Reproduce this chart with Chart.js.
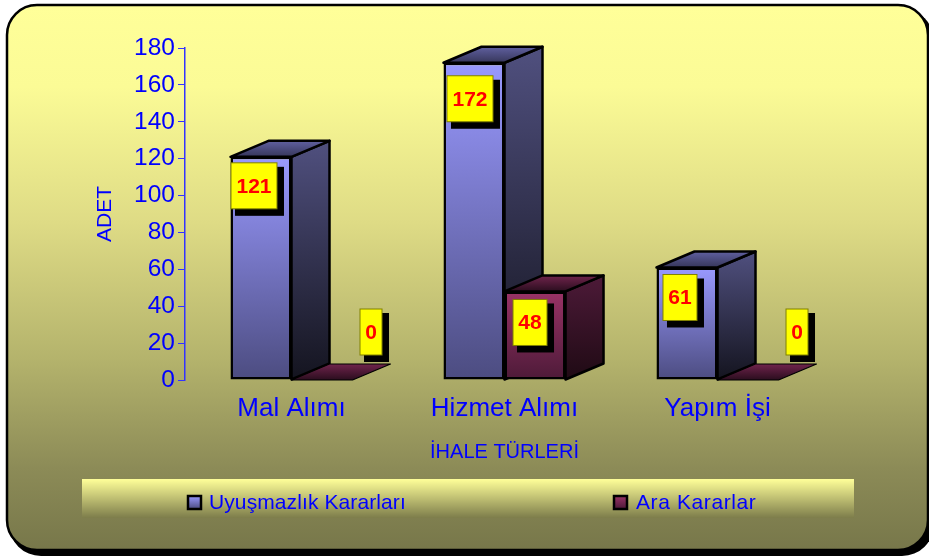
<!DOCTYPE html>
<html>
<head>
<meta charset="utf-8">
<title>İhale Türleri</title>
<script src="https://cdn.jsdelivr.net/npm/chart.js@4"></script>
<style>
    html, body { margin: 0; padding: 0; background: #fff; }
    #wrap { width: 929px; height: 556px; }
</style>
</head>
<body>
<div id="wrap"><canvas id="chart" width="929" height="556"></canvas></div>
<script>
const categories = ['Mal Alımı', 'Hizmet Alımı', 'Yapım İşi'];
const seriesNames = ['Uyuşmazlık Kararları', 'Ara Kararlar'];
const uyusmazlik = [121, 172, 61];
const araKararlar = [0, 48, 0];
const yTicks = [0, 20, 40, 60, 80, 100, 120, 140, 160, 180];

const FONT = '"Liberation Sans", Arial, sans-serif';
const BLUE = '#0000ff';
const DEPTH_X = 38;
const DEPTH_Y = -16;

// hand placed value boxes, offset from the top centre of each bar
const boxOffsets = [
    [[-7, 29], [-4, 36], [-7, 30]],
    [[49, -48], [-5, 31], [49, -48]]
];

const faces = [
    { front: ['#9999ff', '#4c4c80'], side: ['#50507f', '#14141f'], top: ['#6060a0', '#36365a'] },
    { front: ['#993366', '#4d1a38'], side: ['#4d1a38', '#1f0a14'], top: ['#70244c', '#2a0d1e'] }
];

function vGrad(ctx, y0, y1, c0, c1) {
    const g = ctx.createLinearGradient(0, y0, 0, y1);
    g.addColorStop(0, c0);
    g.addColorStop(1, c1);
    return g;
}

function poly(ctx, pts, fill, lineWidth) {
    ctx.beginPath();
    pts.forEach((p, i) => i ? ctx.lineTo(p[0], p[1]) : ctx.moveTo(p[0], p[1]));
    ctx.closePath();
    ctx.fillStyle = fill;
    ctx.fill();
    ctx.lineWidth = lineWidth;
    ctx.lineJoin = 'round';
    ctx.strokeStyle = '#000';
    ctx.stroke();
}

function drawDepth(chart, datasetIndex) {
    const ctx = chart.ctx;
    const f = faces[datasetIndex];
    chart.getDatasetMeta(datasetIndex).data.forEach(bar => {
        const l = bar.x - bar.width / 2;
        const r = bar.x + bar.width / 2;
        const t = bar.y;
        const b = bar.base;
        const flat = b - t < 1;
        ctx.save();
        if (!flat) {
            poly(ctx, [[r, t], [r + DEPTH_X, t + DEPTH_Y], [r + DEPTH_X, b + DEPTH_Y], [r, b]],
                vGrad(ctx, t + DEPTH_Y, b, f.side[0], f.side[1]), 2.5);
        }
        poly(ctx, [[l, t], [l + DEPTH_X, t + DEPTH_Y], [r + DEPTH_X, t + DEPTH_Y], [r, t]],
            vGrad(ctx, t + DEPTH_Y, t, f.top[0], f.top[1]), flat ? 1.2 : 2.5);
        ctx.restore();
    });
}

function drawLegend(ctx) {
    const swatchX = [188, 614];
    const textX = [209, 636];
    const spacing = ['0.1px', '0.6px'];
    seriesNames.forEach((name, i) => {
        ctx.fillStyle = vGrad(ctx, 496, 509, faces[i].front[0], faces[i].front[1]);
        ctx.fillRect(swatchX[i], 496, 13, 13);
        ctx.lineWidth = 2.5;
        ctx.strokeStyle = '#000';
        ctx.strokeRect(swatchX[i], 496, 13, 13);
        ctx.fillStyle = BLUE;
        ctx.font = '21px ' + FONT;
        ctx.textAlign = 'left';
        ctx.textBaseline = 'alphabetic';
        ctx.letterSpacing = spacing[i];
        ctx.fillText(name, textX[i], 509);
    });
    ctx.letterSpacing = '0px';
}

const bars3d = {
    id: 'bars3d',
    beforeDraw(chart) {
        const ctx = chart.ctx;
        ctx.save();
        // drop shadow and rounded panel
        ctx.fillStyle = '#000';
        ctx.beginPath();
        ctx.roundRect(9, 9, 925, 547, 32);
        ctx.fill();
        const g = ctx.createLinearGradient(0, 5, 0, 550);
        g.addColorStop(0, '#ffff99');
        g.addColorStop(0.15, '#fbfb96');
        g.addColorStop(0.4, '#dedb85');
        g.addColorStop(0.65, '#b4b36c');
        g.addColorStop(0.85, '#8c8b57');
        g.addColorStop(1, '#77774a');
        ctx.beginPath();
        ctx.roundRect(7, 5, 921, 545, 30);
        ctx.fillStyle = g;
        ctx.fill();
        ctx.lineWidth = 2.5;
        ctx.strokeStyle = '#000';
        ctx.stroke();
        // legend strip
        ctx.fillStyle = vGrad(ctx, 479, 518, '#ffff99', '#7d7d4b');
        ctx.fillRect(82, 479, 772, 39);
        drawLegend(ctx);
        ctx.restore();
    },
    beforeDatasetsDraw(chart) {
        drawDepth(chart, 0);
    },
    afterDatasetDraw(chart, args) {
        if (args.index === 1) drawDepth(chart, 1);
    },
    afterDatasetsDraw(chart) {
        const ctx = chart.ctx;
        ctx.save();
        chart.data.datasets.forEach((ds, d) => {
            chart.getDatasetMeta(d).data.forEach((bar, i) => {
                const text = String(ds.data[i]);
                const w = 10 + 12 * text.length;
                const h = 46;
                const cx = bar.x + boxOffsets[d][i][0];
                const cy = bar.y + boxOffsets[d][i][1];
                ctx.fillStyle = '#000';
                ctx.fillRect(cx - w / 2 + 4, cy - h / 2 + 4, w + 3, h + 3);
                ctx.fillStyle = '#ffff00';
                ctx.fillRect(cx - w / 2, cy - h / 2, w, h);
                ctx.lineWidth = 1;
                ctx.strokeStyle = '#808000';
                ctx.strokeRect(cx - w / 2, cy - h / 2, w, h);
                ctx.fillStyle = '#ff0000';
                ctx.font = 'bold 21px ' + FONT;
                ctx.textAlign = 'center';
                ctx.textBaseline = 'middle';
                ctx.fillText(text, cx, cy + 1);
            });
        });
        ctx.restore();
    }
};

const ctx = document.getElementById('chart').getContext('2d');

function frontFill(d) {
    return c => {
        const y = c.chart.scales.y;
        if (!y || !y.height) return faces[d].front[0];
        const top = y.getPixelForValue(c.raw);
        return vGrad(c.chart.ctx, top, y.getPixelForValue(0) + 0.1, faces[d].front[0], faces[d].front[1]);
    };
}

new Chart(ctx, {
    type: 'bar',
    plugins: [bars3d],
    data: {
        labels: categories,
        datasets: [
            { label: seriesNames[0], data: uyusmazlik, backgroundColor: frontFill(0) },
            { label: seriesNames[1], data: araKararlar, backgroundColor: frontFill(1) }
        ]
    },
    options: {
        responsive: false,
        animation: false,
        layout: { padding: { left: 93, right: 105, top: 48, bottom: 92 } },
        datasets: {
            bar: {
                categoryPercentage: 0.573,
                barPercentage: 1,
                borderColor: '#000',
                borderWidth: 2.5,
                borderSkipped: false
            }
        },
        plugins: {
            tooltip: { enabled: false },
            legend: { display: false }
        },
        scales: {
            x: {
                afterFit(axis) { axis.height = 84; },
                grid: { display: false },
                border: { display: false },
                ticks: { color: BLUE, font: { family: FONT, size: 26 }, maxRotation: 0, padding: 5 },
                title: {
                    display: true,
                    text: 'İHALE TÜRLERİ',
                    color: BLUE,
                    font: { family: FONT, size: 20 },
                    padding: { top: 0, bottom: 0 }
                }
            },
            y: {
                min: 0,
                max: 180,
                afterBuildTicks(axis) { axis.ticks = yTicks.map(v => ({ value: v })); },
                afterFit(axis) { axis.width = 92; },
                grid: { drawOnChartArea: false, drawTicks: true, tickLength: 7, color: '#3333ff' },
                border: { color: '#3333ff', width: 1.5 },
                ticks: { color: BLUE, font: { family: FONT, size: 24.5 }, padding: 3, autoSkip: false },
                title: {
                    display: true,
                    text: 'ADET',
                    color: BLUE,
                    font: { family: FONT, size: 21 },
                    padding: { top: 0, bottom: 0 }
                }
            }
        }
    }
});
</script>
</body>
</html>
